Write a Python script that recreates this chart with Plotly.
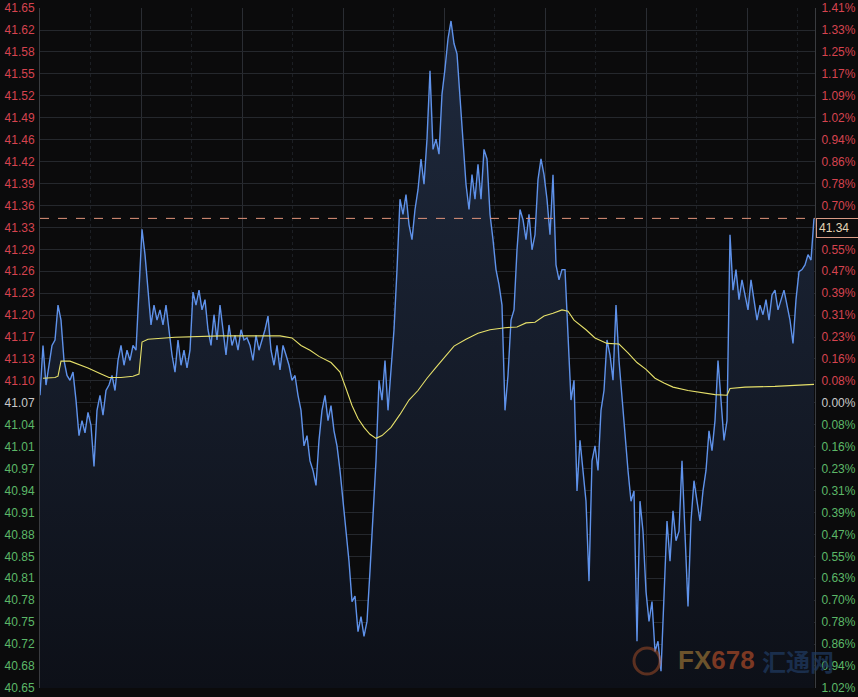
import plotly.graph_objects as go

# ---------------- data ----------------
price = [
    41.081, 41.154, 41.096, 41.125, 41.154, 41.162, 41.213, 41.191, 41.132, 41.110,
    41.103, 41.115, 41.074, 41.022, 41.044, 41.026, 41.056, 41.037, 40.977, 41.059,
    41.081, 41.052, 41.088, 41.096, 41.110, 41.088, 41.132, 41.154, 41.125, 41.147,
    41.132, 41.154, 41.147, 41.235, 41.324, 41.287, 41.235, 41.184, 41.213, 41.191,
    41.206, 41.184, 41.213, 41.177, 41.140, 41.115, 41.162, 41.125, 41.147, 41.121,
    41.147, 41.232, 41.213, 41.235, 41.206, 41.221, 41.177, 41.154, 41.199, 41.162,
    41.213, 41.177, 41.140, 41.184, 41.154, 41.169, 41.147, 41.177, 41.162, 41.165,
    41.154, 41.132, 41.169, 41.147, 41.162, 41.177, 41.197, 41.147, 41.125, 41.154,
    41.118, 41.154, 41.140, 41.125, 41.103, 41.110, 41.081, 41.059, 41.007, 41.022,
    40.985, 40.971, 40.949, 41.015, 41.059, 41.081, 41.044, 41.066, 41.029, 41.007,
    40.971, 40.926, 40.882, 40.838, 40.779, 40.787, 40.735, 40.757, 40.728, 40.750,
    40.824, 40.897, 40.985, 41.103, 41.074, 41.132, 41.059, 41.118, 41.177, 41.265,
    41.368, 41.346, 41.375, 41.331, 41.309, 41.353, 41.382, 41.427, 41.390, 41.456,
    41.556, 41.441, 41.456, 41.434, 41.522, 41.559, 41.603, 41.629, 41.596, 41.581,
    41.515, 41.441, 41.390, 41.353, 41.404, 41.368, 41.419, 41.368, 41.441, 41.427,
    41.346, 41.309, 41.265, 41.243, 41.213, 41.059, 41.110, 41.191, 41.206, 41.294,
    41.353, 41.338, 41.309, 41.346, 41.294, 41.316, 41.397, 41.427, 41.404, 41.368,
    41.316, 41.404, 41.272, 41.250, 41.265, 41.265, 41.162, 41.074, 41.103, 40.941,
    41.015, 40.971, 40.926, 40.809, 40.985, 41.007, 40.971, 41.059, 41.088, 41.162,
    41.140, 41.103, 41.213, 41.132, 41.074, 41.029, 40.971, 40.926, 40.941, 40.721,
    40.926, 40.882, 40.794, 40.750, 40.779, 40.706, 40.721, 40.677, 40.779, 40.897,
    40.838, 40.912, 40.868, 40.882, 40.985, 40.868, 40.772, 40.897, 40.956, 40.926,
    40.897, 40.941, 40.971, 41.029, 41.000, 41.044, 41.132, 41.074, 41.015, 41.044,
    41.316, 41.235, 41.265, 41.221, 41.250, 41.228, 41.206, 41.250, 41.221, 41.191,
    41.213, 41.199, 41.221, 41.191, 41.228, 41.235, 41.206, 41.221, 41.235, 41.213,
    41.191, 41.157, 41.221, 41.262, 41.265, 41.272, 41.287, 41.279, 41.34,
]
t = list(range(len(price)))

ma_idx = [1, 5, 6, 7, 10, 13, 16, 20, 23, 27, 31, 33, 34, 36, 45, 60, 80, 84, 87, 90,
          93, 97, 100, 102, 104, 106, 108, 110, 112, 114, 117, 120, 123, 126, 129, 132,
          135, 138, 142, 146, 150, 155, 159, 162, 165, 168, 171, 174, 176, 178, 182, 185,
          189, 193, 196, 199, 202, 205, 208, 211, 216, 220, 225, 229, 230, 235, 245, 258]
ma_val = [41.106, 41.107, 41.109, 41.131, 41.131, 41.126, 41.121, 41.113, 41.107, 41.107,
          41.109, 41.112, 41.159, 41.163, 41.166, 41.168, 41.168, 41.165, 41.154, 41.147,
          41.138, 41.129, 41.115, 41.091, 41.066, 41.047, 41.034, 41.024, 41.018, 41.022,
          41.034, 41.053, 41.074, 41.088, 41.106, 41.122, 41.137, 41.153, 41.163, 41.172,
          41.177, 41.180, 41.181, 41.187, 41.188, 41.197, 41.201, 41.206, 41.204, 41.191,
          41.177, 41.165, 41.157, 41.156, 41.143, 41.129, 41.119, 41.106, 41.099, 41.093,
          41.088, 41.085, 41.082, 41.081, 41.091, 41.093, 41.094, 41.097]

prev_close = 41.07
tick_step = 0.0321
n_up, n_down = 18, 13
last_price = 41.34

left_labels = ["41.65", "41.62", "41.58", "41.55", "41.52", "41.49", "41.46", "41.42",
               "41.39", "41.36", "41.33", "41.29", "41.26", "41.23", "41.20", "41.17",
               "41.13", "41.10", "41.07", "41.04", "41.01", "40.97", "40.94", "40.91",
               "40.88", "40.85", "40.81", "40.78", "40.75", "40.72", "40.68", "40.65"]
right_labels = ["1.41%", "1.33%", "1.25%", "1.17%", "1.09%", "1.02%", "0.94%", "0.86%",
                "0.78%", "0.70%", "0.63%", "0.55%", "0.47%", "0.39%", "0.31%", "0.23%",
                "0.16%", "0.08%", "0.00%", "0.08%", "0.16%", "0.23%", "0.31%", "0.39%",
                "0.47%", "0.55%", "0.63%", "0.70%", "0.78%", "0.86%", "0.94%", "1.02%"]

samples_per_grid = 101 / 3.0

# ---------------- styling ----------------
BG = "#0b0b0c"
RED = "#d6434f"
GREEN = "#5cb868"
NEUTRAL = "#c9c9c9"
GRID = "#25282d"

ks = list(range(n_up, -n_down - 1, -1))
tickvals = [prev_close + k * tick_step for k in ks]

def colored(labels):
    out = []
    for k, lab in zip(ks, labels):
        c = RED if k > 0 else (GREEN if k < 0 else NEUTRAL)
        out.append(f"<span style='color:{c}'>{lab}</span>")
    return out

y_lo = tickvals[-1] - 0.0002
y_hi = tickvals[0] + 0.0002
x_hi = 775 / 3.0

major = [samples_per_grid * j for j in range(1, 8)]
minor = [samples_per_grid * (j + 0.5) for j in range(0, 8)]

fig = go.Figure()

fig.add_trace(go.Scatter(
    x=t, y=price, mode="lines",
    line=dict(color="#5f92ea", width=1.4),
    fill="tozeroy",
    fillgradient=dict(type="vertical", start=y_lo, stop=y_hi,
                      colorscale=[[0, "#0d1018"], [1, "#1f2a3e"]]),
    hoverinfo="skip", showlegend=False,
))

fig.add_trace(go.Scatter(
    x=ma_idx, y=ma_val, mode="lines", yaxis="y2",
    line=dict(color="#e6e06a", width=1.1),
    hoverinfo="skip", showlegend=False,
))

fig.update_layout(
    width=858, height=697,
    margin=dict(l=40, r=43, t=8, b=9, autoexpand=False),
    paper_bgcolor=BG, plot_bgcolor=BG,
    font=dict(family="Liberation Sans, Arial, sans-serif", size=12, color=NEUTRAL),
    xaxis=dict(range=[0, x_hi], showticklabels=False, ticks="", automargin=False,
               tickvals=major, showgrid=True, gridcolor="#2a2d33", gridwidth=1,
               minor=dict(tickvals=minor, showgrid=True, gridcolor="#1c1f24",
                          griddash="dot", gridwidth=1),
               zeroline=False, showline=False, fixedrange=True),
    yaxis=dict(range=[y_lo, y_hi], tickvals=tickvals, ticktext=colored(left_labels),
               showgrid=True, gridcolor=GRID, gridwidth=1, zeroline=False,
               showline=True, linecolor="#3a3c40", linewidth=1, ticks="",
               automargin=False, ticklabelstandoff=2, tickfont=dict(size=12)),
    yaxis2=dict(range=[y_lo, y_hi], overlaying="y", side="right",
                tickvals=tickvals, ticktext=colored(right_labels),
                showgrid=False, zeroline=False, showline=True,
                linecolor="#3a3c40", linewidth=1, ticks="",
                automargin=False, ticklabelstandoff=3, tickfont=dict(size=12)),
)

# last price dashed line and label
fig.add_shape(type="line", xref="paper", x0=0, x1=1, yref="y",
              y0=last_price, y1=last_price,
              line=dict(color="#e0937a", width=1, dash="dash"))
fig.add_annotation(xref="paper", x=1, y=last_price, yref="y",
                   xanchor="left", yanchor="top", xshift=1,
                   text=f"{last_price:.2f}", showarrow=False,
                   font=dict(size=12, color="#e3d4b4"),
                   bgcolor=BG, bordercolor="#d99c86", borderwidth=1,
                   borderpad=2, width=44, align="left")

# watermark
fig.add_shape(type="circle", xref="paper", yref="paper",
              x0=(634 - 40) / 775, x1=(660 - 40) / 775,
              y0=(688 - 674) / 680, y1=(688 - 648) / 680,
              line=dict(color="rgba(170,80,40,0.5)", width=3), layer="above")
fig.add_annotation(xref="paper", yref="paper", x=(676 - 40) / 775, y=(688 - 660) / 680,
                   xanchor="left", yanchor="middle", showarrow=False,
                   text="<b><span style='color:rgba(140,105,50,0.75)'>FX</span>"
                        "<span style='color:rgba(160,70,38,0.75)'>678</span></b>",
                   font=dict(family="Liberation Sans Narrow, Liberation Sans, Arial",
                             size=26))
fig.add_annotation(xref="paper", yref="paper", x=(760 - 40) / 775, y=(688 - 660) / 680,
                   xanchor="left", yanchor="middle", showarrow=False,
                   text="<b>汇通网</b>",
                   font=dict(family="Noto Sans CJK SC", size=24,
                             color="rgba(32,60,100,0.7)"))

fig.write_html(
    "out.html",
    config={"displayModeBar": False},
    post_script="document.body.style.margin='0';"
                "document.body.style.background='#0b0b0c';"
                "document.body.style.overflow='hidden';",
)
